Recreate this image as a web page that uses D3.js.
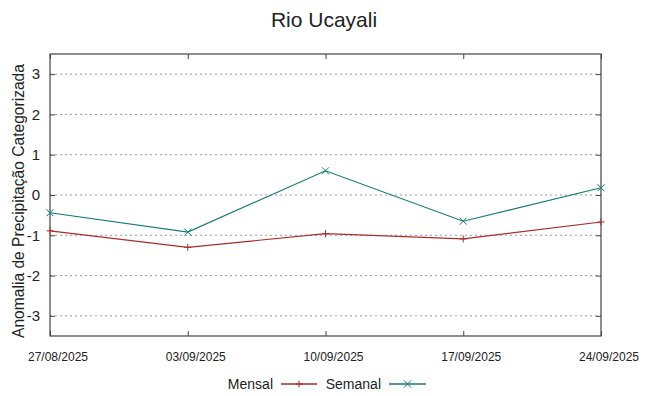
<!DOCTYPE html>
<html>
<head>
<meta charset="utf-8">
<script src="https://cdn.jsdelivr.net/npm/d3@7"></script>
<style>
  body { margin: 0; background: #fff; }
  text { font-family: "Liberation Sans", Arial, sans-serif; fill: #222; }
</style>
</head>
<body>
<div class="chart"></div>
<script>
// Rio Ucayali - anomalia de precipitacao

var dates = ["27/08/2025", "03/09/2025", "10/09/2025", "17/09/2025", "24/09/2025"];
var mensal = [-0.89, -1.30, -0.96, -1.09, -0.67];
var semanal = [-0.44, -0.92, 0.60, -0.65, 0.18];
var yTicks = [-3, -2, -1, 0, 1, 2, 3];

var svgWidth = 649;
var svgHeight = 396;
var margin = { top: 54, right: 48, bottom: 60, left: 50 };
var width = 601 - margin.left;
var height = 336 - margin.top;

var svg = d3.select(".chart")
    .append("svg")
    .attr("width", svgWidth)
    .attr("height", svgHeight);

var chart = svg.append("g")
    .attr("transform", "translate(" + margin.left + "," + margin.top + ")");

var parse = d3.timeParse("%d/%m/%Y");
var xScale = d3.scaleTime()
    .domain([parse(dates[0]), parse(dates[dates.length - 1])])
    .range([0, width]);
var yScale = d3.scaleLinear()
    .domain([-3.5, 3.5])
    .range([height, 0]);

// dotted horizontal grid
chart.append("g")
    .selectAll("line")
    .data(yTicks)
    .enter()
    .append("line")
    .attr("x1", 0)
    .attr("x2", width)
    .attr("y1", function(d) { return yScale(d); })
    .attr("y2", function(d) { return yScale(d); })
    .attr("stroke", "#9a9a9a")
    .attr("stroke-width", 1)
    .attr("stroke-dasharray", "2,3");

// axes with inward ticks (mirrored)
var leftAxis = d3.axisLeft(yScale).tickValues(yTicks).tickSizeInner(-5).tickSizeOuter(0).tickPadding(10)
    .tickFormat(function(d) { return String(d); });
var rightAxis = d3.axisRight(yScale).tickValues(yTicks).tickSizeInner(-5).tickSizeOuter(0).tickFormat("");
var bottomAxis = d3.axisBottom(xScale).tickValues(dates.map(parse)).tickSizeInner(-5).tickSizeOuter(0)
    .tickPadding(16.5).tickFormat(d3.timeFormat("%d/%m/%Y"));
var topAxis = d3.axisTop(xScale).tickValues(dates.map(parse)).tickSizeInner(-5).tickSizeOuter(0).tickFormat("");

function styleAxis(g) {
    g.select(".domain").remove();
    g.selectAll(".tick line").attr("stroke", "#444");
}

chart.append("g").call(leftAxis).call(styleAxis)
    .selectAll("text").style("font-size", "15px").attr("fill", "#222");
chart.append("g").attr("transform", "translate(" + width + ",0)").call(rightAxis).call(styleAxis);
chart.append("g").attr("transform", "translate(0," + height + ")").call(bottomAxis).call(styleAxis)
    .selectAll("text").style("font-size", "12px").attr("fill", "#222").attr("dx", 7.5);
chart.append("g").call(topAxis).call(styleAxis);

// frame
chart.append("rect")
    .attr("x", 0)
    .attr("y", 0)
    .attr("width", width)
    .attr("height", height)
    .attr("fill", "none")
    .attr("stroke", "#444")
    .attr("stroke-width", 1.2);

var series = [
    { name: "Mensal", values: mensal, color: "#b02a2a", mark: "plus" },
    { name: "Semanal", values: semanal, color: "#127a7a", mark: "cross" }
];

var line = d3.line()
    .x(function(d, i) { return xScale(parse(dates[i])); })
    .y(function(d) { return yScale(d); });

function drawMark(g, type, color, cx, cy) {
    var s = 3.5;
    if (type == "plus") {
        g.append("path")
            .attr("d", "M" + (cx - s) + "," + cy + "H" + (cx + s) + "M" + cx + "," + (cy - s) + "V" + (cy + s))
            .attr("stroke", color).attr("stroke-width", 1).attr("fill", "none");
    } else {
        g.append("path")
            .attr("d", "M" + (cx - s) + "," + (cy - s) + "L" + (cx + s) + "," + (cy + s) +
                "M" + (cx - s) + "," + (cy + s) + "L" + (cx + s) + "," + (cy - s))
            .attr("stroke", color).attr("stroke-width", 1).attr("fill", "none");
    }
}

series.forEach(function(s) {
    chart.append("path")
        .datum(s.values)
        .attr("d", line)
        .attr("fill", "none")
        .attr("stroke", s.color)
        .attr("stroke-width", 1.1);
    var marks = chart.append("g");
    s.values.forEach(function(v, i) {
        drawMark(marks, s.mark, s.color, xScale(parse(dates[i])), yScale(v));
    });
});

// title
svg.append("text")
    .attr("x", 324)
    .attr("y", 27)
    .attr("text-anchor", "middle")
    .style("font-size", "21px")
    .text("Rio Ucayali");

// y axis label
svg.append("text")
    .attr("transform", "translate(24,201) rotate(-90)")
    .attr("text-anchor", "middle")
    .style("font-size", "15.6px")
    .text("Anomalia de Precipitação Categorizada");

// legend
var legend = svg.append("g");
var legendPos = [{ textEnd: 273, x1: 281, x2: 317 }, { textEnd: 381, x1: 389, x2: 426 }];
series.forEach(function(s, i) {
    var p = legendPos[i];
    legend.append("text")
        .attr("x", p.textEnd)
        .attr("y", 389)
        .attr("text-anchor", "end")
        .style("font-size", "14px")
        .text(s.name);
    legend.append("line")
        .attr("x1", p.x1).attr("x2", p.x2)
        .attr("y1", 384).attr("y2", 384)
        .attr("stroke", s.color)
        .attr("stroke-width", 1.5);
    drawMark(legend, s.mark, s.color, (p.x1 + p.x2) / 2, 384);
});
</script>
</body>
</html>
